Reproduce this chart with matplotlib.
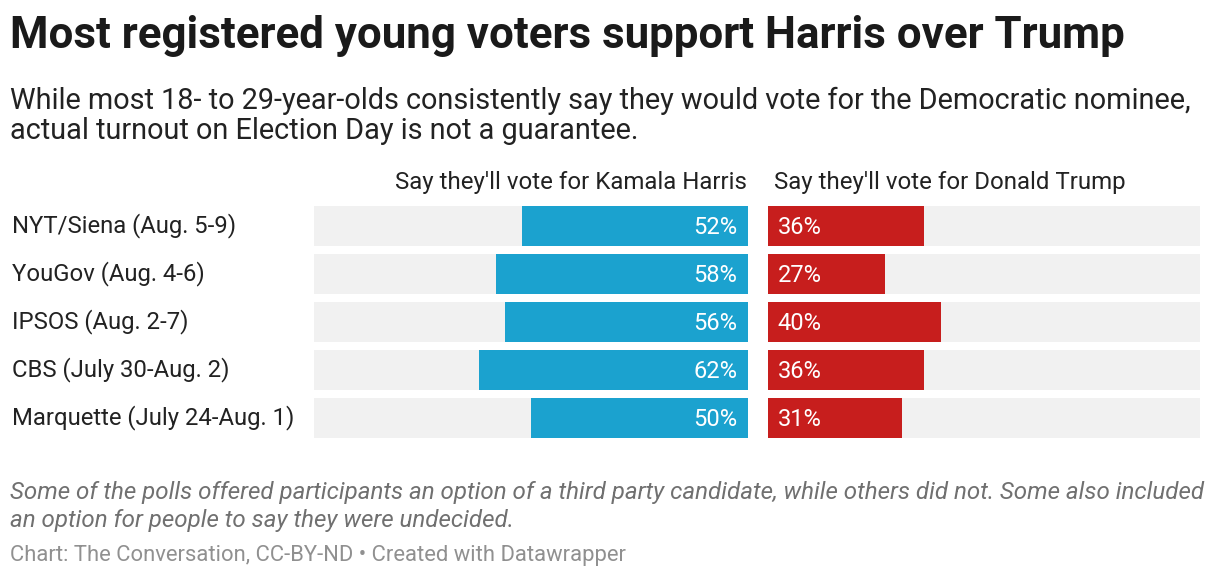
import matplotlib.pyplot as plt

plt.rcParams['font.family'] = ['Roboto', 'DejaVu Sans']

polls = ["NYT/Siena (Aug. 5-9)", "YouGov (Aug. 4-6)", "IPSOS (Aug. 2-7)",
         "CBS (July 30-Aug. 2)", "Marquette (July 24-Aug. 1)"]
harris = [52, 58, 56, 62, 50]
trump = [36, 27, 40, 36, 31]

W, H = 1220, 580
fig = plt.figure(figsize=(W / 100, H / 100), dpi=100)
fig.patch.set_facecolor('white')

def fy(px):
    return 1 - px / H

fig.text(10 / W, fy(36), "Most registered young voters support Harris over Trump",
         fontsize=31.6, fontweight='bold', color='#1a1a1a', va='center')
fig.text(10 / W, fy(101), "While most 18- to 29-year-olds consistently say they would vote for the Democratic nominee,",
         fontsize=20.8, color='#222222', va='center')
fig.text(10 / W, fy(131), "actual turnout on Election Day is not a guarantee.",
         fontsize=20.8, color='#222222', va='center')

top, bot = 206, 438
rows = list(range(len(polls)))
bh = 40 / 48

ax_l = fig.add_axes([314 / W, fy(bot), 434 / W, (bot - top) / H])
ax_r = fig.add_axes([768 / W, fy(bot), 432 / W, (bot - top) / H])

ax_l.barh(rows, [100] * len(rows), height=bh, color='#f1f1f1')
ax_l.barh(rows, harris, height=bh, color='#1ba2cf')
ax_l.set_xlim(100, 0)
for i, v in enumerate(harris):
    ax_l.text(2.5, i + 0.04, f"{v}%", color='white', fontsize=17, ha='right', va='center')

ax_r.barh(rows, [100] * len(rows), height=bh, color='#f1f1f1')
ax_r.barh(rows, trump, height=bh, color='#c71e1d')
ax_r.set_xlim(0, 100)
for i, v in enumerate(trump):
    ax_r.text(2.3, i + 0.04, f"{v}%", color='white', fontsize=17, ha='left', va='center')

for ax in (ax_l, ax_r):
    ax.set_ylim(len(polls) - 1 + bh / 2, -bh / 2)
    ax.axis('off')

for i, p in enumerate(polls):
    fig.text(12 / W, fy(226 + 48 * i), p, fontsize=17.2, color='#222222', va='center')

fig.text(747 / W, fy(182), "Say they'll vote for Kamala Harris", fontsize=17.3,
         color='#222222', ha='right', va='center')
fig.text(774 / W, fy(182), "Say they'll vote for Donald Trump", fontsize=17.3,
         color='#222222', ha='left', va='center')

fig.text(10 / W, fy(492), "Some of the polls offered participants an option of a third party candidate, while others did not. Some also included",
         fontsize=17.4, style='italic', color='#707070', va='center')
fig.text(10 / W, fy(520), "an option for people to say they were undecided.",
         fontsize=17.4, style='italic', color='#707070', va='center')
fig.text(10 / W, fy(556), "Chart: The Conversation, CC-BY-ND \u2022 Created with Datawrapper",
         fontsize=15.8, color='#909090', va='center')

fig.savefig('out.png', dpi=100, facecolor='white')
